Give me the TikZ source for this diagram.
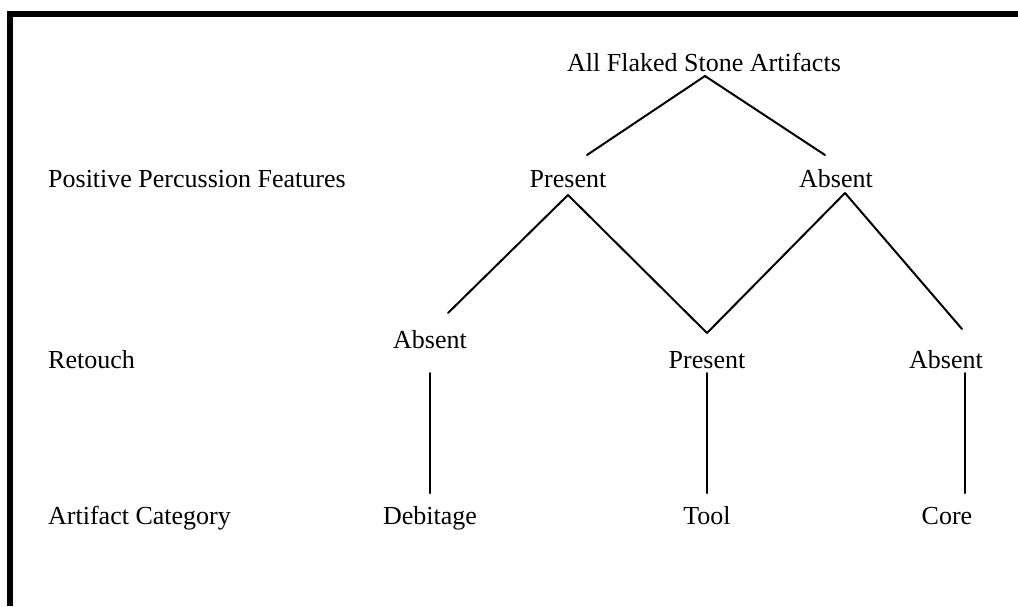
\documentclass[tikz,border=0pt]{standalone}
\usepackage{fontspec}
\setmainfont{Liberation Serif}
\usetikzlibrary{calc}
\begin{document}
\begin{tikzpicture}[x=1pt,y=-1pt,
  lbl/.style={font=\fontsize{26}{31}\selectfont, inner sep=0pt, anchor=base},
  rowlbl/.style={lbl, anchor=base west},
  branch/.style={line width=2pt, line cap=round}]
\useasboundingbox (0,0) rectangle (1018,606);

% open frame: top and left edges only
\draw[line width=6pt] (10,606) -- (10,14) -- (1018,14);

% row captions
\node[rowlbl] (lab1) at (48,187) {Positive Percussion Features};
\node[rowlbl] (lab2) at (48,368) {Retouch};
\node[rowlbl] (lab3) at (48,524) {Artifact Category};

% tree nodes
\node[lbl] (root) at (704,71)  {All Flaked Stone Artifacts};
\node[lbl] (p1)   at (568,187) {Present};
\node[lbl] (a1)   at (836,187) {Absent};
\node[lbl] (a2)   at (430,348) {Absent};
\node[lbl] (p2)   at (707,368) {Present};
\node[lbl] (a3)   at (946,368) {Absent};
\node[lbl] (deb)  at (430,524) {Debitage};
\node[lbl] (tool) at (707,524) {Tool};
\node[lbl] (core) at (947,524) {Core};

% connector end points next to each label
\coordinate (root-out) at ($(root.base)+(1,5)$);
\coordinate (p1-in)  at ($(p1.base)+(19,-32)$);
\coordinate (p1-out) at ($(p1.base)+(0,8)$);
\coordinate (a1-in)  at ($(a1.base)+(-11,-32)$);
\coordinate (a1-out) at ($(a1.base)+(9,6)$);
\coordinate (a2-in)  at ($(a2.base)+(18,-35)$);
\coordinate (a2-out) at ($(a2.base)+(0,25)$);
\coordinate (p2-in)  at ($(p2.base)+(0,-35)$);
\coordinate (p2-out) at ($(p2.base)+(0,5)$);
\coordinate (a3-in)  at ($(a3.base)+(16,-39)$);
\coordinate (a3-out) at ($(a3.base)+(19,5)$);
\coordinate (deb-in)  at ($(deb.base)+(0,-31)$);
\coordinate (tool-in) at ($(tool.base)+(0,-31)$);
\coordinate (core-in) at ($(core.base)+(18,-31)$);

% branches
\draw[branch] (root-out) -- (p1-in);
\draw[branch] (root-out) -- (a1-in);
\draw[branch] (p1-out) -- (a2-in);
\draw[branch] (p1-out) -- (p2-in);
\draw[branch] (a1-out) -- (p2-in);
\draw[branch] (a1-out) -- (a3-in);
\draw[branch] (a2-out) -- (deb-in);
\draw[branch] (p2-out) -- (tool-in);
\draw[branch] (a3-out) -- (core-in);
\end{tikzpicture}
\end{document}
